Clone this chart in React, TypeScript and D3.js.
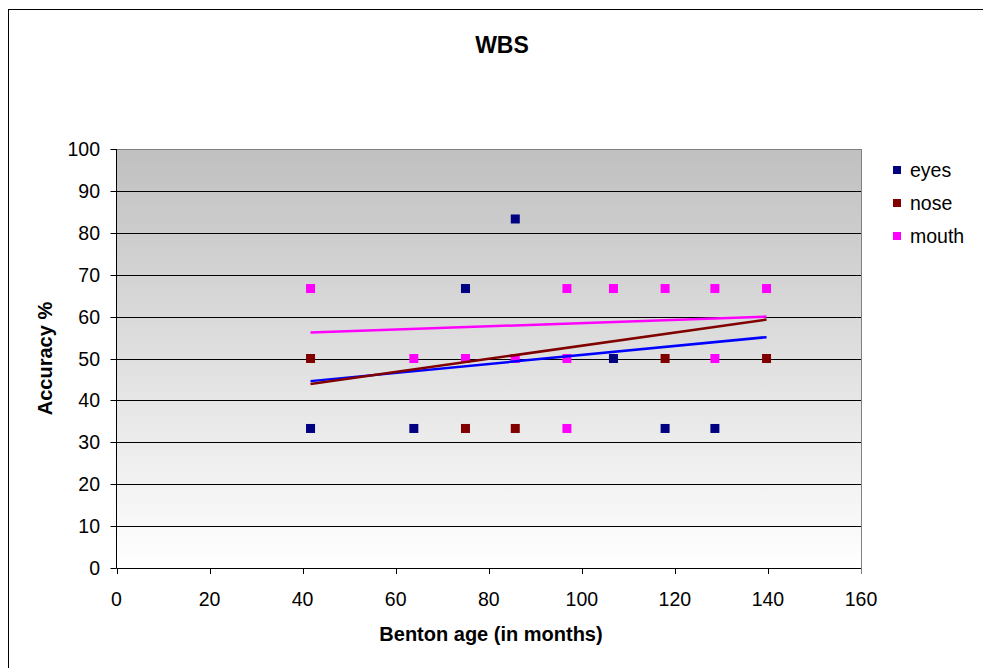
import React from "react";
import * as d3 from "d3";

const seriesNames = ["eyes", "nose", "mouth"];
const markerColors = ["#000080", "#800000", "#FF00FF"];
const trendColors = ["#0000FF", "#800000", "#FF00FF"];

const eyesX = [41.7, 63.9, 75, 85.7, 106.8, 117.9, 128.6];
const eyesY = [33.3, 33.3, 66.7, 83.3, 50, 33.3, 33.3];
const noseX = [41.7, 75, 85.7, 117.9, 139.7];
const noseY = [50, 33.3, 33.3, 50, 50];
const mouthX = [41.7, 63.9, 75, 85.7, 96.8, 96.8, 96.8, 106.8, 117.9, 128.6, 128.6, 139.7];
const mouthY = [66.7, 50, 50, 50, 66.7, 50, 33.3, 66.7, 66.7, 66.7, 50, 66.7];

// linear trend lines: value at start / end of x range
const trendX = [41.7, 139.7];
const eyesTrend = [44.6, 55.1];
const noseTrend = [43.9, 59.3];
const mouthTrend = [56.2, 60.0];

const xTicks = [0, 20, 40, 60, 80, 100, 120, 140, 160];
const yTicks = [0, 10, 20, 30, 40, 50, 60, 70, 80, 90, 100];

export default function App() {
  const W = 983, H = 668;
  const left = 116.5, right = 861, top = 149, bottom = 568;
  const x = d3.scaleLinear().domain([0, 160]).range([left, right]);
  const y = d3.scaleLinear().domain([0, 100]).range([bottom, top]);
  const font = "Arial, 'Liberation Sans', sans-serif";

  const pts = [
    eyesX.map((v, i) => [v, eyesY[i]]),
    noseX.map((v, i) => [v, noseY[i]]),
    mouthX.map((v, i) => [v, mouthY[i]]),
  ];
  const trends = [eyesTrend, noseTrend, mouthTrend];
  const line = d3.line<[number, number]>().x(d => x(d[0])).y(d => y(d[1]));
  const ms = 9;
  const fs = 19.5;

  return (
    <svg width={W} height={H} style={{ position: "absolute", left: 0, top: 0, display: "block" }} fontFamily={font}>
      <defs>
        <linearGradient id="bg" x1="0" y1="0" x2="0" y2="1">
          <stop offset="0%" stopColor="#c0c0c0" />
          <stop offset="100%" stopColor="#ffffff" />
        </linearGradient>
      </defs>
      <rect x={0} y={0} width={W} height={H} fill="#fff" />
      <line x1={8.5} x2={8.5} y1={9} y2={H} stroke="#000" strokeWidth={1} />
      <line x1={8} x2={W} y1={9.5} y2={9.5} stroke="#000" strokeWidth={1} />
      <text x={502} y={53} textAnchor="middle" fontSize={23} fontWeight="bold">WBS</text>
      <rect x={left} y={top} width={right - left} height={bottom - top} fill="url(#bg)" />
      {yTicks.filter(t => t > 0).map(t => (
        <line key={t} x1={left} x2={right} y1={Math.round(y(t)) + 0.5} y2={Math.round(y(t)) + 0.5}
          stroke={t === 100 ? "#808080" : "#000"} strokeWidth={1} />
      ))}
      <line x1={right + 0.5} x2={right + 0.5} y1={top} y2={bottom} stroke="#808080" strokeWidth={1} />
      <line x1={left} x2={left} y1={top} y2={bottom} stroke="#000" strokeWidth={1} />
      <line x1={left} x2={right} y1={bottom + 0.5} y2={bottom + 0.5} stroke="#000" strokeWidth={1} />
      {yTicks.map(t => (
        <g key={t}>
          <line x1={left - 6} x2={left} y1={Math.round(y(t)) + 0.5} y2={Math.round(y(t)) + 0.5} stroke="#000" />
          <text x={100} y={y(t) + 7} textAnchor="end" fontSize={fs}>{t}</text>
        </g>
      ))}
      {xTicks.map(t => (
        <g key={t}>
          <line x1={Math.round(x(t)) + 0.5} x2={Math.round(x(t)) + 0.5} y1={bottom} y2={bottom + 6} stroke={t === 160 ? "#808080" : "#000"} />
          <text x={x(t)} y={606} textAnchor="middle" fontSize={fs}>{t}</text>
        </g>
      ))}
      <text x={491} y={641} textAnchor="middle" fontSize={20} fontWeight="bold">Benton age (in months)</text>
      <text transform={`translate(52,${(top + bottom) / 2}) rotate(-90)`} textAnchor="middle" fontSize={20} fontWeight="bold">Accuracy %</text>
      {pts.map((s, si) => s.map((p, i) => (
        <rect key={si + "-" + i} x={x(p[0]) - ms / 2} y={y(p[1]) - ms / 2} width={ms} height={ms} fill={markerColors[si]} />
      )))}
      {trends.map((t, si) => (
        <path key={si} d={line([[trendX[0], t[0]], [trendX[1], t[1]]]) || ""} stroke={trendColors[si]} strokeWidth={2.5} fill="none" />
      ))}
      {seriesNames.map((n, i) => (
        <g key={n}>
          <rect x={893} y={166 + i * 33} width={8} height={8} fill={markerColors[i]} />
          <text x={910} y={177 + i * 33} fontSize={fs}>{n}</text>
        </g>
      ))}
    </svg>
  );
}
